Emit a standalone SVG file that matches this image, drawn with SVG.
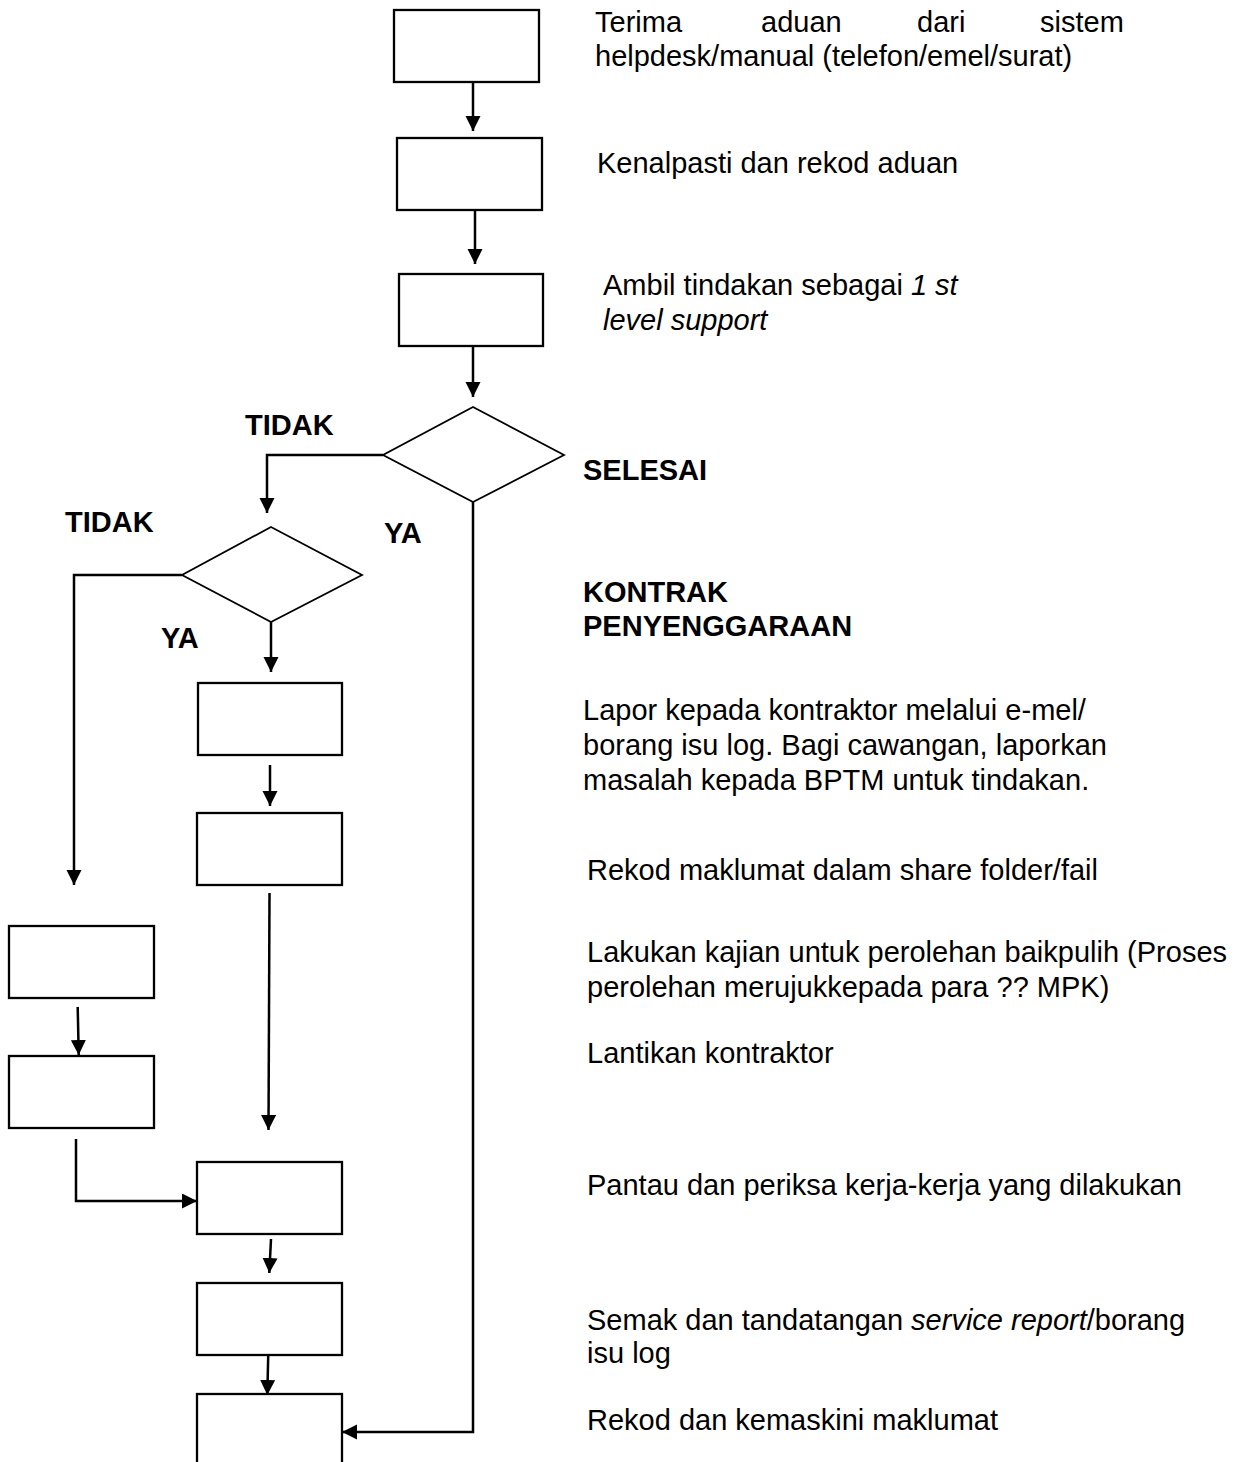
<svg xmlns="http://www.w3.org/2000/svg" width="1241" height="1462" viewBox="0 0 1241 1462">
  <style>
    .box { fill: #fff; stroke: #000; stroke-width: 2.3; }
    .dec { fill: #fff; stroke: #000; stroke-width: 1.8; }
    .wire { fill: none; stroke: #000; stroke-width: 2.5; }
    .t { font-family: "Liberation Sans", Arial, sans-serif; font-size: 29px; fill: #000; }
    .b { font-weight: bold; }
    .i { font-style: italic; }
  </style>
  <defs>
    <marker id="head" markerUnits="userSpaceOnUse" markerWidth="17" markerHeight="17" refX="15" refY="7.5" orient="auto">
      <path d="M0,0 L15,7.5 L0,15 z" fill="#000"/>
    </marker>
  </defs>

  <rect width="1241" height="1462" fill="#fff"/>

  <!-- flow connectors -->
  <g id="connectors" class="wire" marker-end="url(#head)">
    <path d="M473,82 V131"/>
    <path d="M475,210 V264"/>
    <path d="M473,346 V397"/>
    <path d="M383,455 H267 V513"/>
    <path d="M182,575 H74 V885"/>
    <path d="M271,622 V672"/>
    <path d="M270,765 V806"/>
    <path d="M269.5,893 L268.5,1130"/>
    <path d="M77.7,1007 L78.7,1055"/>
    <path d="M76,1139 V1201 H197"/>
    <path d="M271,1239 L269.3,1273"/>
    <path d="M268.3,1352 L267.3,1395"/>
    <path d="M473,502 V1432 H342"/>
  </g>

  <!-- main column -->
  <g id="terima"><rect class="box" x="394" y="10" width="145" height="72"/></g>
  <g id="kenalpasti"><rect class="box" x="397" y="138" width="145" height="72"/></g>
  <g id="tindakan1"><rect class="box" x="399" y="274" width="144" height="72"/></g>
  <g id="selesai"><polygon class="dec" points="473,407 564,455 473,502 383,455"/></g>
  <g id="kontrak"><polygon class="dec" points="271,527 362,575 271,622 182,575"/></g>

  <!-- maintenance-contract branch -->
  <g id="lapor"><rect class="box" x="198" y="683" width="144" height="72"/></g>
  <g id="rekod"><rect class="box" x="197" y="813" width="145" height="72"/></g>

  <!-- procurement branch -->
  <g id="kajian"><rect class="box" x="9" y="926" width="145" height="72"/></g>
  <g id="lantikan"><rect class="box" x="9" y="1056" width="145" height="72"/></g>

  <!-- closing steps -->
  <g id="pantau"><rect class="box" x="197" y="1162" width="145" height="72"/></g>
  <g id="semak"><rect class="box" x="197" y="1283" width="145" height="72"/></g>
  <g id="kemaskini"><rect class="box" x="197" y="1394" width="145" height="80"/></g>

  <!-- decision labels -->
  <g id="labels" class="t b">
    <text x="245" y="435">TIDAK</text>
    <text x="583" y="480">SELESAI</text>
    <text x="65" y="532">TIDAK</text>
    <text x="384" y="543">YA</text>
    <text x="161" y="648">YA</text>
    <text x="583" y="602">KONTRAK</text>
    <text x="583" y="636">PENYENGGARAAN</text>
  </g>

  <!-- step descriptions -->
  <g id="descriptions" class="t">
    <text x="595" y="32">Terima</text>
    <text x="761" y="32">aduan</text>
    <text x="917" y="32">dari</text>
    <text x="1040" y="32">sistem</text>
    <text x="595" y="66">helpdesk/manual (telefon/emel/surat)</text>
    <text x="597" y="173">Kenalpasti dan rekod aduan</text>
    <text x="603" y="295">Ambil tindakan sebagai <tspan class="i">1 st</tspan></text>
    <text x="603" y="330" class="i">level support</text>
    <text x="583" y="720">Lapor kepada kontraktor melalui e-mel/</text>
    <text x="583" y="755">borang isu log. Bagi cawangan, laporkan</text>
    <text x="583" y="790">masalah kepada BPTM untuk tindakan.</text>
    <text x="587" y="880">Rekod maklumat dalam share folder/fail</text>
    <text x="587" y="962">Lakukan kajian untuk perolehan baikpulih (Proses</text>
    <text x="587" y="997">perolehan merujukkepada para ?? MPK)</text>
    <text x="587" y="1063">Lantikan kontraktor</text>
    <text x="587" y="1195">Pantau dan periksa kerja-kerja yang dilakukan</text>
    <text x="587" y="1330">Semak dan tandatangan <tspan class="i">service report</tspan>/borang</text>
    <text x="587" y="1363">isu log</text>
    <text x="587" y="1430">Rekod dan kemaskini maklumat</text>
  </g>
</svg>
